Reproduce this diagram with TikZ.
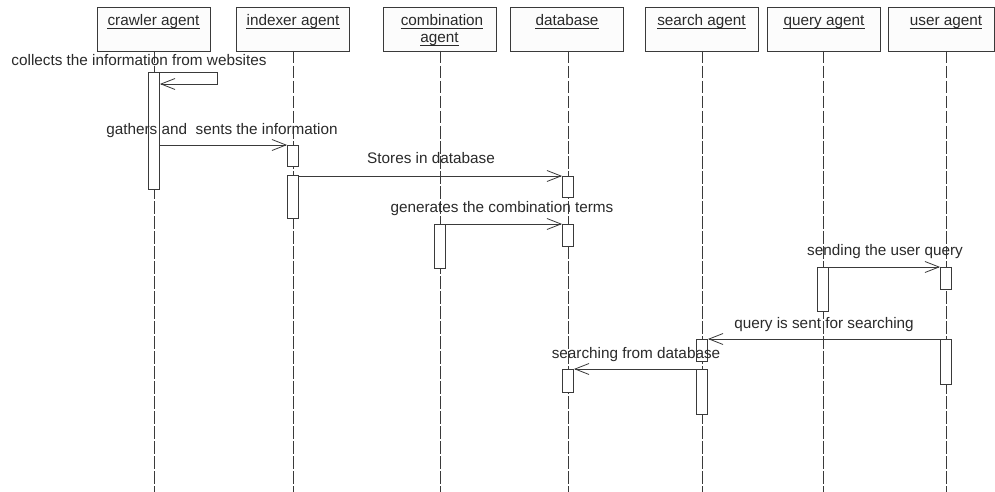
\documentclass[tikz,border=0pt]{standalone}
\usepackage{fontspec}
\setmainfont{Liberation Sans}
\usetikzlibrary{arrows.meta}
\definecolor{lc}{HTML}{3A3A3A}
\definecolor{tc}{HTML}{2A2A2A}
\definecolor{hf}{HTML}{FCFCFC}
\begin{document}
\begin{tikzpicture}[x=1pt,y=-1pt,
  head/.style={draw=lc, fill=hf, line width=0.9pt, minimum width=113pt, minimum height=44pt, anchor=north, inner sep=0pt},
  lbl/.style={inner sep=0pt, anchor=base, text=tc, font=\fontsize{15.3}{18}\selectfont},
  uline/.style={draw=tc, line width=0.8pt},
  act/.style={draw=lc, fill=white, line width=0.9pt, minimum width=11pt, anchor=north, inner sep=0pt},
  life/.style={draw=lc, line width=0.9pt, dash pattern=on 12.5pt off 2.5pt},
  msg/.style={draw=lc, line width=0.8pt, -{Straight Barb[length=14pt,width=11pt]}}]
\useasboundingbox (0,0) rectangle (995,492);
\fill[white] (0,0) rectangle (995,492);

% header boxes
\node[head] (hcr) at (153.5,7) {};
\node[head] (hix) at (293,7) {};
\node[head] (hcb) at (439.5,7) {};
\node[head] (hdb) at (567,7) {};
\node[head] (hsa) at (701.5,7) {};
\node[head] (hqa) at (824,7) {};
\node[head, minimum width=106pt] (hua) at (941,7) {};

% header texts
\node[lbl] (tcr) at (153.5,26) {crawler agent};
\node[lbl] (tix) at (293,26) {indexer agent};
\node[lbl] (tcb1) at (442,26) {combination};
\node[lbl] (tcb2) at (439.5,43) {agent};
\node[lbl] (tdb) at (567,26) {database};
\node[lbl] (tsa) at (701.5,26) {search agent};
\node[lbl] (tqa) at (824,26) {query agent};
\node[lbl] (tua) at (946,26) {user agent};
\foreach \t in {tcr,tix,tcb1,tcb2,tdb,tsa,tqa,tua}
  \draw[uline] ([yshift=-2pt]\t.base west) -- ([yshift=-2pt]\t.base east);

% lifelines
\coordinate (bcr) at (154,492);
\coordinate (bix) at (293,492);
\coordinate (bcb) at (440,492);
\coordinate (bdb) at (568,492);
\coordinate (bsa) at (702,492);
\coordinate (bqa) at (823,492);
\coordinate (bua) at (946,492);
\draw[life] (154,51) -- (bcr);
\draw[life] (293,51) -- (bix);
\draw[life] (440,51) -- (bcb);
\draw[life] (568,51) -- (bdb);
\draw[life] (702,51) -- (bsa);
\draw[life] (823,51) -- (bqa);
\draw[life] (946,51) -- (bua);

% activations
\node[act, minimum height=117pt] (ca) at (154,72) {};
\node[act, minimum height=21pt] (ix1) at (293,145) {};
\node[act, minimum height=43pt] (ix2) at (293,175) {};
\node[act, minimum height=21pt] (db1) at (568,176) {};
\node[act, minimum height=44pt] (cb) at (440,224) {};
\node[act, minimum height=22pt] (db2) at (568,224) {};
\node[act, minimum height=44pt] (qa) at (823,267) {};
\node[act, minimum height=22pt] (ua1) at (946,267) {};
\node[act, minimum height=22pt] (sa1) at (702,339) {};
\node[act, minimum height=45pt] (ua2) at (946,339) {};
\node[act, minimum height=45pt] (sa2) at (702,369) {};
\node[act, minimum height=23pt] (db3) at (568,369) {};

% messages
\draw[msg] (ca.north east) -| ([xshift=57pt,yshift=-12pt]ca.north east) -- ([yshift=-12pt]ca.north east);
\draw[msg] (ix1.north west -| ca.east) -- (ix1.north west);
\draw[msg] (db1.north west -| ix2.east) -- (db1.north west);
\draw[msg] (cb.north east) -- (db2.north west);
\draw[msg] (qa.north east) -- (ua1.north west);
\draw[msg] (ua2.north west) -- (sa1.north east);
\draw[msg] (sa2.north west) -- (db3.north east);

% message labels
\node[lbl] (l1) at (139,66) {collects the information from websites};
\node[lbl] (l2) at (222,135) {gathers and\ \ sents the information};
\node[lbl] (l3) at (431,163) {Stores in database};
\node[lbl] (l4) at (502,212) {generates the combination terms};
\node[lbl] (l5) at (885,255) {sending the user query};
\node[lbl] (l6) at (824,328) {query is sent for searching};
\node[lbl] (l7) at (636,358) {searching from database};
\end{tikzpicture}
\end{document}
